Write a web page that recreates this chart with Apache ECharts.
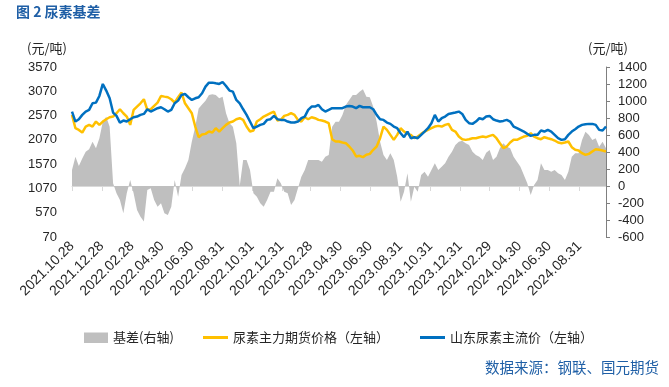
<!DOCTYPE html>
<html>
<head>
<meta charset="utf-8">
<script src="https://cdn.jsdelivr.net/npm/echarts@6/dist/echarts.min.js"></script>
<style>
html,body{margin:0;padding:0;background:#fff;}
#c{width:669px;height:387px;}
</style>
</head>
<body>
<div id="c"></div>
<script>
// Weekly observations starting 2021-10-28
const startDate = Date.UTC(2021, 9, 28);
const weekMs = 7 * 86400000;

// 基差 (right axis)
const basis = [188,345,235,325,404,431,521,443,561,757,
815,698,31,-86,-165,-321,-86,71,-86,-282,
-361,-419,-47,-27,-165,-243,-204,-321,-341,-243,
71,-125,129,208,306,521,698,913,960,1004,
1070,1078,1070,1031,1051,855,737,698,502,0,
306,306,188,-86,-125,-204,-243,-165,-67,-67,
90,31,-67,-86,-223,-165,-27,110,188,306,
306,306,306,286,345,365,698,757,757,835,
953,1011,1070,1070,1109,1137,1051,1043,933,757,
521,365,306,384,306,110,-184,-67,149,-184,
-8,-67,129,169,110,188,267,188,227,267,
345,404,482,521,533,502,482,404,365,345,
306,392,423,306,345,443,502,463,443,345,
286,227,129,31,-106,12,71,267,188,188,
169,188,149,129,71,169,345,384,384,541,
639,600,541,561,463,521,443];

// 尿素主力期货价格 (left axis)
const futures = [2584,2310,2275,2221,2344,2378,2344,2447,2378,2447,
2495,2536,2549,2618,2700,2618,2549,2378,2686,2755,
2823,2906,2686,2700,2769,2837,2974,2960,2947,2906,
2837,2947,3043,2823,2721,2618,2344,2125,2180,2193,
2241,2221,2310,2241,2310,2378,2426,2447,2495,2515,
2481,2344,2241,2262,2447,2495,2549,2584,2618,2652,
2467,2481,2563,2584,2618,2584,2481,2447,2536,2495,
2536,2515,2481,2467,2447,2413,2084,2036,2036,2015,
2001,1933,1851,1728,1741,1714,1762,1782,1865,1933,
2104,2344,2275,2173,2070,2173,2310,2241,2193,2173,
2104,2138,2193,2241,2275,2310,2344,2358,2344,2378,
2399,2275,2241,2138,2084,2070,2084,2104,2104,2125,
2138,2125,2152,2173,2104,2001,1899,1933,2015,2070,
2070,2104,2138,2152,2207,2138,2104,2084,2125,2104,
2084,2056,2015,2001,2015,2036,1919,1865,1851,1796,
1762,1782,1830,1878,1865,1851,1830];

// 山东尿素主流价 (left axis)
const spot = [2652,2447,2495,2584,2652,2686,2823,2837,2974,3221,
3084,2926,2632,2563,2426,2467,2447,2495,2536,2549,
2584,2604,2700,2652,2686,2721,2741,2700,2652,2686,
2823,2878,2995,3015,2947,2892,2926,2947,3029,3166,
3248,3248,3234,3221,3262,3180,3084,3063,2892,2823,
2700,2584,2447,2310,2344,2378,2399,2481,2495,2563,
2495,2481,2481,2447,2426,2426,2447,2515,2549,2686,
2755,2755,2789,2700,2652,2686,2721,2721,2721,2721,
2755,2769,2755,2721,2769,2741,2741,2741,2700,2584,
2495,2481,2426,2399,2344,2310,2207,2125,2241,2104,
2125,2104,2173,2241,2310,2413,2584,2447,2515,2549,
2604,2618,2632,2652,2604,2481,2413,2399,2447,2515,
2495,2549,2563,2495,2467,2447,2460,2481,2447,2344,
2310,2276,2241,2193,2152,2173,2173,2262,2241,2276,
2241,2173,2104,2070,2084,2173,2241,2289,2344,2378,
2392,2399,2399,2378,2276,2262,2344];

const xTickLabels = ['2021-10-28','2021-12-28','2022-02-28','2022-04-30','2022-06-30','2022-08-31',
'2022-10-31','2022-12-31','2023-02-28','2023-04-30','2023-06-30','2023-08-31','2023-10-31',
'2023-12-31','2024-02-29','2024-04-30','2024-06-30','2024-08-31'];
const leftTicks = [70,570,1070,1570,2070,2570,3070,3570];

const dates = spot.map((_, i) => startDate + i * weekMs);
const tickTs = xTickLabels.map(s => Date.parse(s + 'T00:00:00Z'));
const pair = arr => arr.map((v, i) => [dates[i], v]);
function fmt(v){
  const d = new Date(v);
  const p = n => (n < 10 ? '0' : '') + n;
  return d.getUTCFullYear() + '.' + p(d.getUTCMonth()+1) + '.' + p(d.getUTCDate());
}
const plain = v => String(Math.round(v));

const numFont = 'Liberation Sans, Arial, sans-serif';
const cjkFont = 'Noto Sans CJK SC, sans-serif';
const legText = {fontSize: 13, color: '#262626', fontFamily: cjkFont};

const chart = echarts.init(document.getElementById('c'));
chart.setOption({
  animation: false,
  backgroundColor: '#fff',
  grid: {left: 72, right: 63, top: 67, bottom: 150, containLabel: false},
  legend: [
    {left: 84, top: 331, padding: 0, icon: 'rect', itemWidth: 24, itemHeight: 10,
     itemStyle: {color: '#BFBFBF', borderWidth: 0},
     data: ['基差(右轴)'], textStyle: legText},
    {left: 203, top: 331, padding: 0, icon: 'rect', itemWidth: 25, itemHeight: 3,
     itemStyle: {color: '#FFC000', borderWidth: 0},
     data: ['尿素主力期货价格（左轴）'], textStyle: legText},
    {left: 420, top: 331, padding: 0, icon: 'rect', itemWidth: 25, itemHeight: 3,
     itemStyle: {color: '#0070C0', borderWidth: 0},
     data: ['山东尿素主流价（左轴）'], textStyle: legText}
  ],
  graphic: [
    {type: 'text', left: 16, top: 5, style: {text: '图 2 尿素基差', fill: '#1F5FA6', font: 'bold 14px ' + cjkFont}},
    {type: 'text', left: 27, top: 42, style: {text: '(元/吨)', fill: '#262626', font: '13px ' + cjkFont}},
    {type: 'text', left: 588, top: 42, style: {text: '(元/吨)', fill: '#262626', font: '13px ' + cjkFont}},
    {type: 'text', right: 10, top: 360, style: {text: '数据来源：钢联、国元期货', fill: '#1F5FA6', font: '14.5px ' + cjkFont}},
    {type: 'rect', left: 84, top: 333, z: 100, shape: {width: 24, height: 10}, style: {fill: '#BFBFBF'}, silent: true}
  ],
  xAxis: {
    type: 'value',
    min: dates[0],
    max: dates[dates.length - 1],
    axisLine: {show: true, lineStyle: {color: '#d9d9d9', width: 1}},
    axisTick: {show: true, customValues: tickTs, length: 5, lineStyle: {color: '#d9d9d9'}},
    axisLabel: {customValues: tickTs, formatter: fmt, rotate: 45, fontSize: 14, color: '#262626',
                margin: 7, fontFamily: numFont, hideOverlap: false},
    splitLine: {show: false}
  },
  yAxis: [
    {
      type: 'value', min: 70, max: 3570,
      axisLine: {show: false}, axisTick: {show: false}, splitLine: {show: false},
      axisLabel: {customValues: leftTicks, formatter: plain, fontSize: 13, color: '#262626', margin: 15, fontFamily: numFont}
    },
    {
      type: 'value', min: -600, max: 1400, interval: 200, position: 'right',
      axisLine: {show: true, lineStyle: {color: '#7f7f7f'}},
      axisTick: {show: true, length: 4, lineStyle: {color: '#7f7f7f'}},
      splitLine: {show: false},
      axisLabel: {formatter: plain, fontSize: 13, color: '#262626', margin: 12, fontFamily: numFont}
    }
  ],
  series: [
    {
      name: '基差(右轴)', type: 'line', yAxisIndex: 1, data: pair(basis),
      symbol: 'none', lineStyle: {width: 0, color: '#BFBFBF'}, itemStyle: {color: '#BFBFBF'},
      areaStyle: {color: '#BFBFBF', opacity: 1, origin: 0}, z: 1
    },
    {
      name: '尿素主力期货价格（左轴）', type: 'line', yAxisIndex: 0, data: pair(futures),
      symbol: 'none', lineStyle: {width: 2.5, color: '#FFC000'}, itemStyle: {color: '#FFC000'}, z: 2
    },
    {
      name: '山东尿素主流价（左轴）', type: 'line', yAxisIndex: 0, data: pair(spot),
      symbol: 'none', lineStyle: {width: 2.5, color: '#0070C0'}, itemStyle: {color: '#0070C0'}, z: 3
    }
  ]
});
</script>
</body>
</html>
